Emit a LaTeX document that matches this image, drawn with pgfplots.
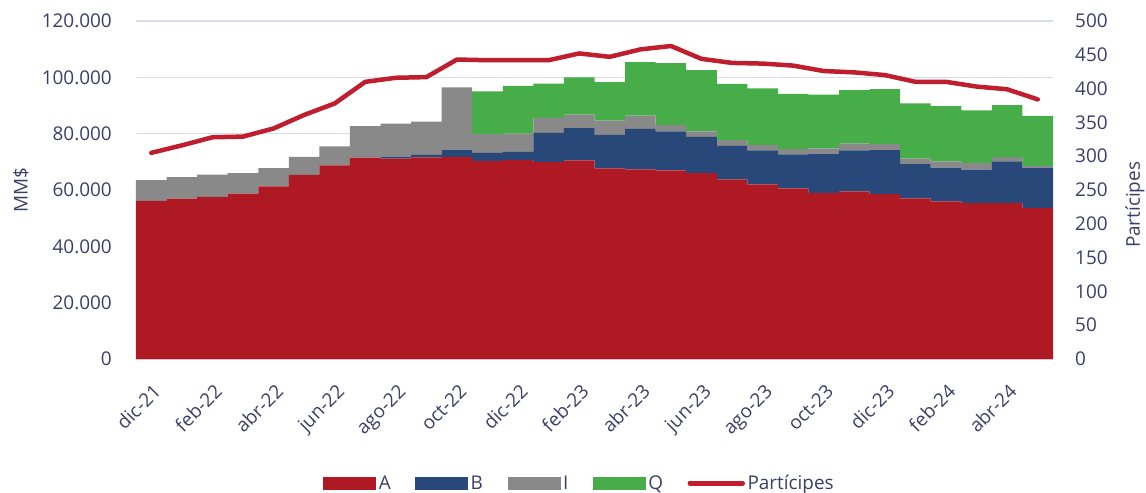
\documentclass[border=0pt]{standalone}
\usepackage{pgfplots}
\usepackage{pgfplotstable}
\pgfplotsset{compat=1.18}
\usepackage{fontspec}
\setmainfont{Open Sans}
\definecolor{cA}{RGB}{174,25,35}
\definecolor{cB}{RGB}{39,72,120}
\definecolor{cI}{RGB}{137,137,137}
\definecolor{cQ}{RGB}{71,173,72}
\definecolor{cP}{RGB}{190,30,45}
\definecolor{txt}{RGB}{58,62,106}
\definecolor{grd}{RGB}{217,220,235}

\pgfplotstableread{
x A B I Q P
0 56100 0 7400 0 305
1 56900 0 7700 0 316
2 57600 0 7900 0 328
3 58700 0 7300 0 329
4 61300 0 6500 0 341
5 65400 0 6400 0 361
6 68750 0 6700 0 378
7 71450 0 11200 0 410
8 71100 600 11900 0 416
9 71600 900 11800 0 417
10 71800 2500 22100 0 443
11 70300 2900 6600 15200 442
12 70600 2950 6500 16900 442
13 69900 10400 5300 12200 442
14 70500 11500 4800 13200 452
15 67700 11900 5000 13700 447
16 67300 14400 4700 19000 458
17 67000 13800 2200 22000 463
18 66000 12900 1900 21800 444
19 63800 11900 2000 20000 438
20 62000 12050 2000 20000 437
21 60600 12050 1900 19600 434
22 59000 13700 2100 19100 426
23 59500 14600 2400 19000 424
24 58500 15700 2200 19400 420
25 57000 12150 2000 19600 410
26 56000 11900 2300 19600 410
27 55300 11900 2300 18800 403
28 55300 14900 1500 18400 399
29 53600 14350 650 17700 384
}\data

\begin{document}
\begin{tikzpicture}[font=\fontsize{19}{23}\selectfont, text=txt]
\begin{axis}[name=ax, scale only axis, width=917bp, height=338bp,
  at={(0,0)}, anchor=south west,
  xmin=-0.5, xmax=29.5, ymin=0, ymax=120000,
  ybar stacked, bar width=1,
  xtick={0,2,...,28},
  xticklabels={dic-21,feb-22,abr-22,jun-22,ago-22,oct-22,dic-22,feb-23,abr-23,jun-23,ago-23,oct-23,dic-23,feb-24,abr-24},
  ytick={0,20000,...,120000},
  scaled y ticks=false,
  ymajorgrids, grid style={grd, line width=1.2bp},
  axis line style={draw=none}, major tick length=0pt,
  /pgf/number format/assume math mode=true,
  yticklabel style={/pgf/number format/fixed, /pgf/number format/1000 sep={.}, anchor=east, inner xsep=0pt, xshift=-24bp},
  xticklabel style={xshift=11bp, yshift=-34bp, rotate=45, anchor=base east, inner sep=0pt},
  ylabel={MM\$}, ylabel style={at={(axis description cs:-0.1254,0.5)}, anchor=center},
  legend style={at={(axis description cs:0.4839,-0.367)}, anchor=center, draw=none, fill=none, legend columns=-1,
    /tikz/every even column/.append style={column sep=22bp}, inner sep=0pt, font=\fontsize{19}{23}\selectfont, text=txt,
    nodes={inner xsep=2.5bp}},
  legend cell align=left,
]
\addplot[fill=cA, draw=none, legend image code/.code={\fill[cA] (0bp,-6.5bp) rectangle (53bp,6.5bp);}] table[x=x,y=A]{\data};
\addlegendentry{A}
\addplot[fill=cB, draw=none, legend image code/.code={\fill[cB] (0bp,-6.5bp) rectangle (53bp,6.5bp);}] table[x=x,y=B]{\data};
\addlegendentry{B}
\addplot[fill=cI, draw=none, legend image code/.code={\fill[cI] (0bp,-6.5bp) rectangle (53bp,6.5bp);}] table[x=x,y=I]{\data};
\addlegendentry{I}
\addplot[fill=cQ, draw=none, legend image code/.code={\fill[cQ] (0bp,-6.5bp) rectangle (53bp,6.5bp);}] table[x=x,y=Q]{\data};
\addlegendentry{Q}
\addlegendimage{legend image code/.code={\draw[cP, line width=5bp, line cap=round] (2.5bp,0) -- (55bp,0);}}
\addlegendentry{Partícipes}
\end{axis}
\begin{axis}[scale only axis, width=917bp, height=338bp,
  at={(0,0)}, anchor=south west,
  xmin=-0.5, xmax=29.5, ymin=0, ymax=500,
  axis x line=none, axis y line*=right,
  axis line style={draw=none}, major tick length=0pt,
  ytick={0,50,...,500},
  /pgf/number format/assume math mode=true,
  yticklabel style={anchor=west, inner xsep=0pt, xshift=22bp},
  ylabel={Partícipes}, ylabel style={at={(axis description cs:1.0894,0.456)}, anchor=center, rotate=0},
]
\addplot[cP, line width=4.5bp, line join=round, line cap=round] table[x=x,y=P]{\data};
\end{axis}
\pgfresetboundingbox
\path[use as bounding box] ([shift={(-136bp,-134bp)}]ax.south west) rectangle ([shift={(93bp,21bp)}]ax.north east);
\end{tikzpicture}
\end{document}
